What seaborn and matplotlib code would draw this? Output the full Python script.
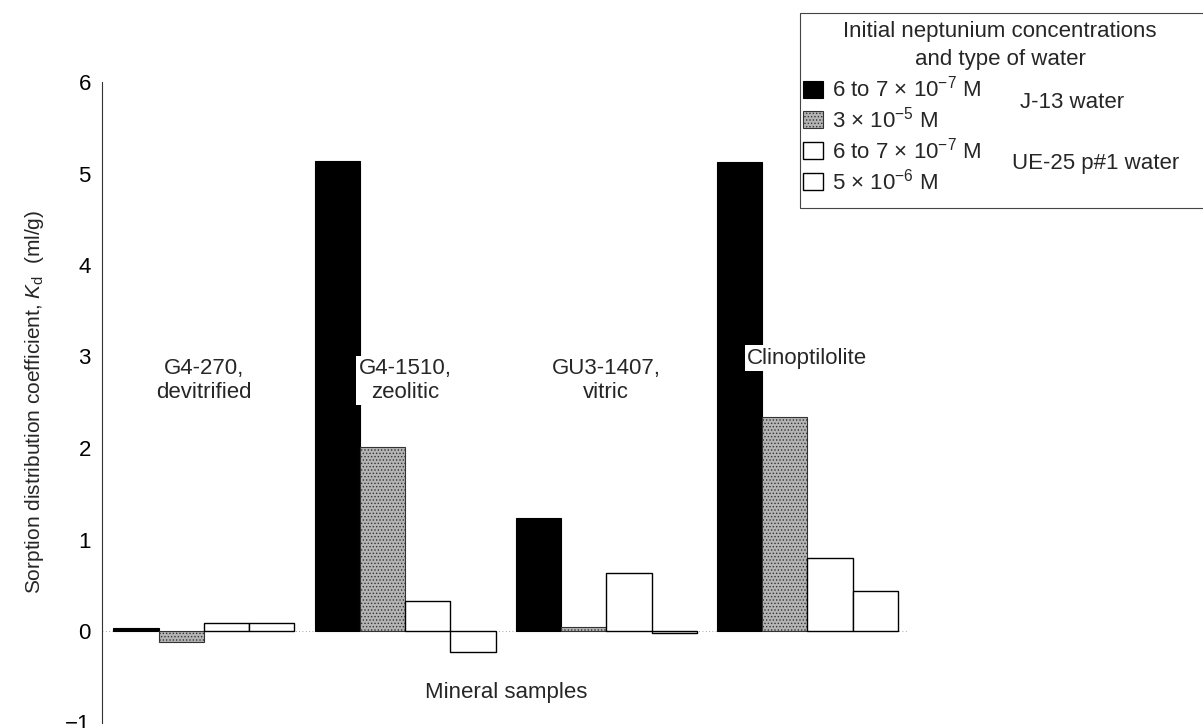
import matplotlib
matplotlib.use("Agg")
import matplotlib.pyplot as plt
from matplotlib.patches import Patch, Rectangle
import seaborn as sns
import pandas as pd

# ---- data ----
samples = ["G4-270,\ndevitrified", "G4-1510,\nzeolitic", "GU3-1407,\nvitric", "Clinoptilolite"]
series = [r"6 to 7 $\times$ 10$^{-7}$ M", r"3 $\times$ 10$^{-5}$ M",
          r"6 to 7 $\times$ 10$^{-7}$ M ", r"5 $\times$ 10$^{-6}$ M"]
j13_low = [0.03, 5.14, 1.23, 5.13]
j13_high = [-0.12, 2.01, 0.04, 2.34]
ue25_low = [0.09, 0.33, 0.63, 0.80]
ue25_high = [0.09, -0.23, -0.02, 0.44]
water_types = ["J-13 water", "UE-25 p#1 water"]
yticks = [-1, 0, 1, 2, 3, 4, 5, 6]

rows = []
for s, vals in zip(series, [j13_low, j13_high, ue25_low, ue25_high]):
    for smp, v in zip(samples, vals):
        rows.append({"sample": smp, "series": s, "kd": v})
df = pd.DataFrame(rows)

sns.set_theme(style="white")
plt.rcParams["font.family"] = ["Liberation Sans", "DejaVu Sans"]
plt.rcParams["mathtext.fontset"] = "custom"
plt.rcParams["mathtext.rm"] = "Liberation Sans"
plt.rcParams["mathtext.it"] = "Liberation Sans:italic"
plt.rcParams["mathtext.bf"] = "Liberation Sans:bold"
plt.rcParams["hatch.color"] = "#5a5a5a"
plt.rcParams["hatch.linewidth"] = 0.6

FS = 16
fig = plt.figure(figsize=(12.03, 7.28), dpi=100)
ax = fig.add_axes([102 / 1203, 1 - 722.5 / 728, (908 - 102) / 1203, (722.5 - 82) / 728])

face = ["#000000", "#b4b4b4", "#ffffff", "#ffffff"]
sns.barplot(data=df, x="sample", y="kd", hue="series", order=samples, hue_order=series,
            palette=face, width=0.9, dodge=True, saturation=1, legend=False, ax=ax)

styles = [
    dict(edgecolor="#000000", linewidth=0.8, hatch=None),
    dict(edgecolor="#333333", linewidth=0.8, hatch="....."),
    dict(edgecolor="#000000", linewidth=1.0, hatch=None),
    dict(edgecolor="#000000", linewidth=1.0, hatch=None),
]
for cont, st in zip(ax.containers, styles):
    for bar in cont:
        bar.set_edgecolor(st["edgecolor"])
        bar.set_linewidth(st["linewidth"])
        if st["hatch"]:
            bar.set_hatch(st["hatch"])

ax.set_xlim(-0.507, 3.5)
ax.set_ylim(-1, 6)
ax.set_yticks(yticks)
ax.set_yticklabels([str(t).replace("-", "\u2212") for t in yticks], fontsize=FS)
ax.tick_params(axis="y", length=3, width=0.8, direction="in", pad=8, colors="#000000")
ax.set_xticks([])
ax.set_xlabel("")
ax.set_ylabel(r"Sorption distribution coefficient, $K_{\rm d}$  (ml/g)", fontsize=15, labelpad=14)

for sp in ["top", "right", "bottom"]:
    ax.spines[sp].set_visible(False)
ax.spines["left"].set_color("#333333")
ax.spines["left"].set_linewidth(0.8)

ax.axhline(0, color="#888888", lw=0.6, ls=(0, (1, 3)), zorder=0.5)

# group labels
for i, name in enumerate(samples):
    bg = None
    if i in (1, 3):
        bg = dict(facecolor="white", edgecolor="none", pad=2)
    ax.text(i, 2.98, name, ha="center", va="top" if "\n" in name else "center",
            fontsize=FS, linespacing=1.15, bbox=bg, zorder=5)

ax.text(1.5, -0.67, "Mineral samples", ha="center", va="center", fontsize=FS)

# legend box (manual frame)
fig.patches.append(Rectangle((800 / 1203, 1 - 208 / 728), 410 / 1203, (208 - 13) / 728,
                             transform=fig.transFigure, facecolor="white",
                             edgecolor="#444444", lw=0.8, zorder=0))
fig.text(1000 / 1203, 1 - 32 / 728, "Initial neptunium concentrations", ha="center",
         va="center", fontsize=FS)
fig.text(1000 / 1203, 1 - 60 / 728, "and type of water", ha="center", va="center", fontsize=FS)

handles = [
    Patch(facecolor=face[0], edgecolor="#000000", lw=0.8),
    Patch(facecolor=face[1], edgecolor="#333333", lw=0.8, hatch="....."),
    Patch(facecolor=face[2], edgecolor="#000000", lw=1.0),
    Patch(facecolor=face[3], edgecolor="#000000", lw=1.0),
]
fig.legend(handles, series, loc="upper left", bbox_to_anchor=(803 / 1203, 1 - 76 / 728),
           frameon=False, fontsize=FS, handlelength=0.9, handleheight=0.8,
           handletextpad=0.4, labelspacing=0.22, borderpad=0, borderaxespad=0)
fig.text(1020 / 1203, 1 - 102 / 728, water_types[0], ha="left", va="center", fontsize=FS)
fig.text(1012 / 1203, 1 - 163 / 728, water_types[1], ha="left", va="center", fontsize=FS)

fig.savefig("out.png", dpi=100)
